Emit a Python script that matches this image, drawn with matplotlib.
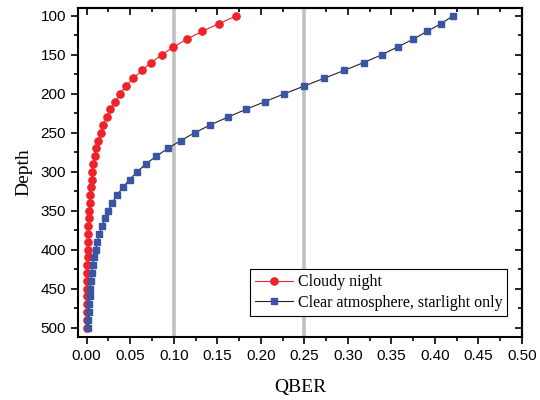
import matplotlib
matplotlib.use('Agg')
import matplotlib.pyplot as plt
from matplotlib.ticker import MultipleLocator

depth = list(range(100, 510, 10))

# QBER, cloudy night
cloudy = [0.172, 0.152, 0.1325, 0.115, 0.0996, 0.0862, 0.0743, 0.0636, 0.0536, 0.0452,
          0.0383, 0.0326, 0.0272, 0.0230, 0.0188, 0.0161, 0.0134, 0.0111, 0.0092, 0.0077,
          0.0065, 0.0057, 0.0046, 0.0038, 0.0033, 0.0028, 0.0024, 0.0020, 0.0017, 0.0014,
          0.0012, 0.0010, 0.0008, 0.0007, 0.0006, 0.0005, 0.0004, 0.0003, 0.0003, 0.0002,
          0.0002]

# QBER, clear atmosphere, starlight only
clear = [0.421, 0.407, 0.391, 0.375, 0.357, 0.339, 0.318, 0.296, 0.273, 0.250,
         0.227, 0.205, 0.183, 0.162, 0.142, 0.124, 0.108, 0.0935, 0.080, 0.068,
         0.058, 0.0494, 0.0416, 0.0349, 0.029, 0.025, 0.021, 0.0176, 0.0146, 0.0123,
         0.0103, 0.0084, 0.0069, 0.0057, 0.0050, 0.0042, 0.0038, 0.0031, 0.0027, 0.0019,
         0.0015]

thresholds = [0.10, 0.25]
xticks = [i * 0.05 for i in range(11)]

fig = plt.figure(figsize=(5.4, 4.0), dpi=100)
ax = fig.add_axes([0.1444, 0.1575, 0.8223, 0.8225])

for t in thresholds:
    ax.axvline(t, color='#c0c0c0', lw=2.6, zorder=1)

ax.plot(cloudy, depth, '-o', color='#ee2228', lw=0.8, ms=5.2,
        mec='#ee2228', label='Cloudy night', zorder=3)
ax.plot(clear, depth, '-s', color='#222222', lw=0.8, ms=4.6,
        mfc='#3a55a4', mec='#3a55a4', label='Clear atmosphere, starlight only', zorder=3)

ax.set_xlim(-0.01, 0.50)
ax.set_ylim(512, 90)
ax.set_xticks(xticks)
ax.set_xticklabels(['%.2f' % v for v in xticks])
ax.xaxis.set_minor_locator(MultipleLocator(0.025))
ax.yaxis.set_major_locator(MultipleLocator(50))
ax.yaxis.set_minor_locator(MultipleLocator(25))

for lab in ax.get_xticklabels() + ax.get_yticklabels():
    lab.set_fontfamily('Liberation Sans')
    lab.set_fontsize(11)

# left/bottom ticks point out
ax.tick_params(which='both', direction='out', width=1.2)
ax.tick_params(which='major', length=5)
ax.tick_params(which='minor', length=3)

# top/right ticks point in
top = ax.secondary_xaxis('top')
top.set_xticks(xticks)
top.xaxis.set_minor_locator(MultipleLocator(0.025))
top.tick_params(which='both', direction='in', labeltop=False, width=1.2)
top.tick_params(which='major', length=5)
top.tick_params(which='minor', length=3)
right = ax.secondary_yaxis('right')
right.yaxis.set_major_locator(MultipleLocator(50))
right.yaxis.set_minor_locator(MultipleLocator(25))
right.tick_params(which='both', direction='in', labelright=False, width=1.2)
right.tick_params(which='major', length=5)
right.tick_params(which='minor', length=3)

for s in list(ax.spines.values()) + [top.spines['top'], right.spines['right']]:
    s.set_linewidth(1.5)

ax.set_xlabel('QBER', fontfamily='Liberation Serif', fontsize=14, labelpad=12)
ax.set_ylabel('Depth', fontfamily='Liberation Serif', fontsize=14, labelpad=6)

leg = ax.legend(loc='lower right', bbox_to_anchor=(0.985, 0.04), numpoints=1,
                prop={'family': 'Liberation Serif', 'size': 11.5}, fancybox=False,
                edgecolor='black', framealpha=1, handlelength=2.4,
                borderpad=0.3, labelspacing=0.3, handletextpad=0.3)
leg.get_frame().set_linewidth(0.8)

fig.savefig('out.png', dpi=100)
